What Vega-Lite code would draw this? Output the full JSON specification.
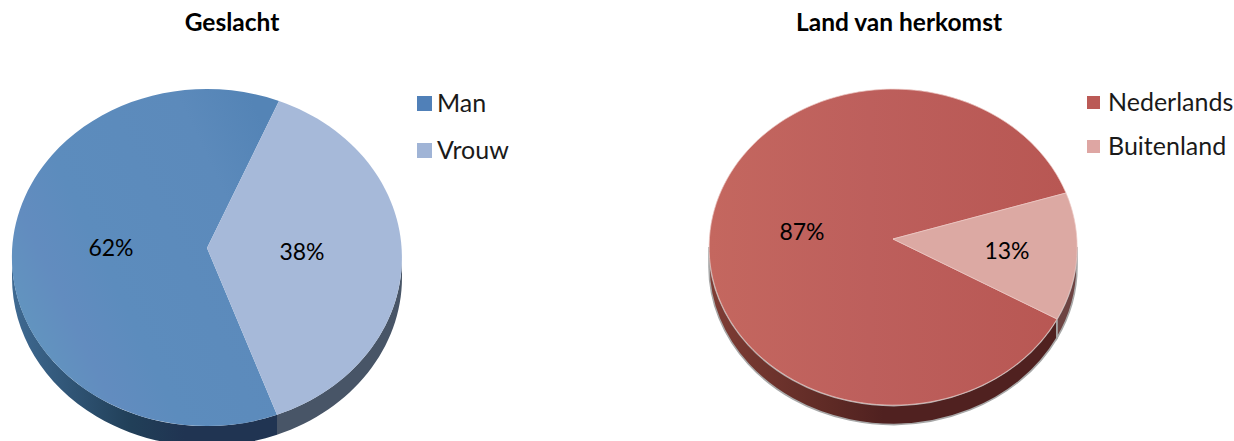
{"$schema":"https://vega.github.io/schema/vega-lite/v6.json","padding":{"top":11,"left":0,"right":0,"bottom":0},"background":"white","spacing":0,"config":{"view":{"stroke":null},"font":"Lato","title":{"font":"Lato","fontWeight":"bold","fontSize":24.5,"color":"#000000","anchor":"middle"},"legend":{"labelFont":"Lato","labelFontSize":25,"labelColor":"#1a1a1a","title":null,"padding":0}},"hconcat":[{"title":{"text":"Geslacht","dx":-48,"offset":5.5},"width":560,"height":400,"data":{"values":[{"groep":"Man","percentage":62,"label":"62%"},{"groep":"Vrouw","percentage":38,"label":"38%"}]},"resolve":{"scale":{"shape":"independent","color":"independent","x":"independent","y":"independent"}},"layer":[{"mark":{"type":"point","filled":true,"shape":"square","size":0,"opacity":1,"strokeWidth":0},"encoding":{"color":{"field":"groep","type":"nominal","scale":{"domain":["Man","Vrouw"],"range":["#5080b8","#a0b4d6"]},"legend":{"orient":"none","legendX":412,"legendY":49,"symbolType":"square","symbolSize":225,"symbolStrokeWidth":0,"symbolOpacity":1,"rowPadding":21,"labelOffset":0}}}},{"mark":{"type":"point","filled":true,"size":4,"opacity":1,"strokeWidth":0,"clip":true},"encoding":{"shape":{"field":"groep","type":"nominal","legend":null,"scale":{"domain":["Man","Vrouw"],"range":["M-268,15.5 A195,168.5 0 0 0 -3,172.8 L-3,192.8 A195,168.5 0 0 1 -268,35.5 Z","M-3,172.8 A195,168.5 0 0 0 122,15.5 L122,35.5 A195,168.5 0 0 1 -3,192.8 Z"]}},"color":{"condition":{"test":"datum.groep==='Man'","value":{"gradient":"linear","x1":0,"y1":0,"x2":1,"y2":0,"stops":[{"offset":0,"color":"#3f6a92"},{"offset":0.45,"color":"#213f58"},{"offset":0.65,"color":"#203452"},{"offset":1,"color":"#203452"}]}},"value":"#485567"}}},{"mark":{"type":"point","filled":true,"size":4,"opacity":1,"strokeWidth":0,"clip":true},"encoding":{"shape":{"field":"groep","type":"nominal","legend":null,"scale":{"domain":["Man","Vrouw"],"range":["M-73,6 L-3,172.8 A195,168.5 0 1 1 -1,-141 Z","M-73,6 L-1,-141 A195,168.5 0 0 1 -3,172.8 Z"]}},"color":{"condition":{"test":"datum.groep==='Man'","value":{"gradient":"linear","x1":0,"y1":0.8,"x2":1,"y2":0.2,"stops":[{"offset":0,"color":"#6299bf"},{"offset":0.22,"color":"#628cbf"},{"offset":0.38,"color":"#5c8cbd"},{"offset":0.8,"color":"#5c8abb"},{"offset":1,"color":"#5484b6"}]}},"value":"#a6b9d9"}}},{"mark":{"type":"text","font":"Lato","fontSize":23,"color":"#000000","align":"center","baseline":"middle"},"encoding":{"text":{"field":"label","type":"nominal"},"x":{"field":"groep","type":"nominal","axis":null,"scale":{"type":"point","padding":0,"domain":["Man","Vrouw"],"range":[111,302]}},"y":{"field":"groep","type":"nominal","axis":null,"scale":{"type":"point","padding":0,"domain":["Man","Vrouw"],"range":[207,211]}}}}]},{"title":{"text":"Land van herkomst","dx":2,"offset":5.5},"width":674,"height":400,"data":{"values":[{"groep":"Nederlands","percentage":87,"label":"87%"},{"groep":"Buitenland","percentage":13,"label":"13%"}]},"resolve":{"scale":{"shape":"independent","color":"independent","x":"independent","y":"independent"}},"layer":[{"mark":{"type":"point","filled":true,"shape":"square","size":0,"opacity":1,"strokeWidth":0},"encoding":{"color":{"field":"groep","type":"nominal","scale":{"domain":["Nederlands","Buitenland"],"range":["#bb5a56","#dea6a3"]},"legend":{"orient":"none","legendX":521,"legendY":48,"symbolType":"square","symbolSize":169,"symbolStrokeWidth":0,"symbolOpacity":1,"rowPadding":18,"labelOffset":2}}}},{"mark":{"type":"point","filled":true,"size":4,"opacity":1,"strokeWidth":1.6,"stroke":"#a8a8a8","clip":true},"encoding":{"shape":{"field":"groep","type":"nominal","legend":null,"scale":{"domain":["Nederlands","Buitenland"],"range":["M-188,5 A184,158 0 0 0 160,77 L160,96 A184,158 0 0 1 -188,24 Z","M160,77 A184,158 0 0 0 180,5 L180,24 A184,158 0 0 1 160,96 Z"]}},"color":{"condition":{"test":"datum.groep==='Nederlands'","value":{"gradient":"linear","x1":0,"y1":0,"x2":1,"y2":0,"stops":[{"offset":0,"color":"#7f3d35"},{"offset":0.35,"color":"#5e2a25"},{"offset":0.5,"color":"#502120"},{"offset":1,"color":"#502120"}]}},"value":"#6d4342"}}},{"mark":{"type":"point","filled":true,"size":4,"opacity":1,"strokeWidth":0.7,"stroke":"#ecc8c4","clip":true},"encoding":{"shape":{"field":"groep","type":"nominal","legend":null,"scale":{"domain":["Nederlands","Buitenland"],"range":["M-4,-3 L160,77 A184,158 0 1 1 169,-49 Z","M-4,-3 L169,-49 A184,158 0 0 1 160,77 Z"]}},"color":{"condition":{"test":"datum.groep==='Nederlands'","value":{"gradient":"linear","x1":0,"y1":0,"x2":1,"y2":0,"stops":[{"offset":0,"color":"#c4675f"},{"offset":0.45,"color":"#bd5f5c"},{"offset":1,"color":"#b85753"}]}},"value":"#dca9a3"}}},{"mark":{"type":"text","font":"Lato","fontSize":23,"color":"#000000","align":"center","baseline":"middle"},"encoding":{"text":{"field":"label","type":"nominal"},"x":{"field":"groep","type":"nominal","axis":null,"scale":{"type":"point","padding":0,"domain":["Nederlands","Buitenland"],"range":[242,447]}},"y":{"field":"groep","type":"nominal","axis":null,"scale":{"type":"point","padding":0,"domain":["Nederlands","Buitenland"],"range":[191,210]}}}}]}]}
